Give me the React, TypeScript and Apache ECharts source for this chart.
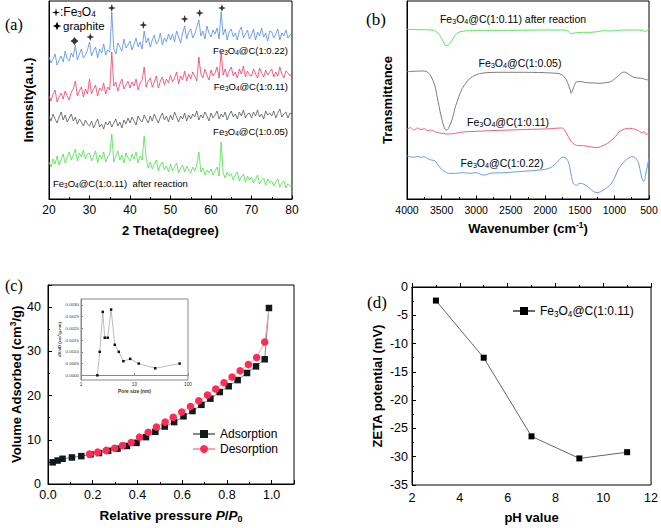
import React, { useEffect, useRef } from 'react';
import * as echarts from 'echarts';

const FONT = '"Liberation Sans", Arial, Helvetica, sans-serif';
const SERIF = '"Liberation Serif", "Times New Roman", serif';

// ---------- (a) XRD: intensity (a.u.) sampled every 0.5 degree from 20 to 80 ----------
const xrdStart = 20;
const xrdStep = 0.5;
const xrdBlue = [
  143, 137, 141, 146, 135, 140, 144, 138, 149, 141,
  139, 147, 143, 155, 140, 146, 151, 142, 145, 150,
  158, 144, 149, 153, 142, 151, 147, 156, 145, 150,
  148, 188, 151, 146, 157, 153, 149, 161, 152, 155,
  159, 150, 156, 162, 153, 158, 151, 169, 157, 162,
  153, 160, 165, 156, 159, 167, 155, 162, 158, 166,
  160, 166, 158, 169, 163, 157, 167, 174, 161, 168,
  171, 162, 166, 173, 180, 164, 169, 161, 174, 167,
  163, 170, 166, 172, 161, 188, 165, 171, 160, 168,
  171, 163, 167, 160, 169, 173, 162, 166, 170, 161,
  165, 171, 160, 168, 164, 172, 163, 167, 159, 169,
  168, 162, 166, 171, 160, 167, 164, 170, 162, 165,
  167,
];
const xrdRed = [
  104, 99, 106, 110, 98, 103, 107, 101, 109, 104,
  100, 108, 111, 119, 104, 109, 113, 103, 111, 106,
  121, 106, 111, 115, 104, 112, 109, 117, 106, 113,
  110, 148, 114, 118, 109, 116, 121, 111, 115, 119,
  112, 118, 114, 121, 110, 117, 120, 133, 113, 119,
  122, 113, 118, 124, 112, 119, 123, 115, 121, 117,
  125, 118, 122, 128, 116, 124, 120, 129, 119, 126,
  121, 128, 124, 119, 143, 126, 122, 131, 125, 120,
  130, 124, 127, 133, 122, 149, 125, 131, 123, 129,
  133, 124, 128, 122, 131, 126, 134, 123, 129, 125,
  124, 131, 126, 122, 132, 127, 123, 130, 125, 128,
  131, 123, 128, 124, 133, 126, 122, 129, 127, 124,
  127,
];
const xrdBlack = [
  84, 79, 86, 81, 77, 83, 88, 80, 85, 78,
  82, 86, 79, 83, 76, 81, 78, 74, 80, 76,
  74, 79, 72, 77, 81, 73, 76, 71, 78, 75,
  79, 73, 77, 81, 74, 78, 72, 80, 76, 82,
  77, 83, 79, 75, 84, 80, 78, 85, 81, 77,
  84, 79, 86, 81, 77, 83, 87, 80, 84, 78,
  85, 80, 88, 83, 78, 84, 81, 87, 79, 85,
  81, 86, 83, 89, 80, 85, 82, 88, 84, 79,
  87, 82, 85, 89, 81, 86, 83, 88, 80, 85,
  89, 83, 86, 81, 88, 84, 90, 82, 86, 87,
  82, 88, 84, 90, 83, 86, 81, 89, 85, 87,
  84, 89, 82, 87, 91, 83, 86, 88, 82, 87,
  86,
];
const xrdGreen = [
  38, 33, 41, 36, 44, 35, 40, 46, 37, 43,
  48, 40, 45, 51, 39, 47, 43, 50, 41, 46,
  47, 39, 44, 49, 37, 45, 41, 48, 38, 43,
  46, 66, 38, 44, 49, 40, 45, 37, 47, 42,
  39, 46, 41, 48, 37, 44, 40, 64, 42, 32,
  38, 31, 36, 40, 29, 35, 38, 30, 34, 28,
  36, 29, 33, 37, 27, 32, 35, 28, 34, 30,
  27, 33, 29, 35, 48, 28, 32, 25, 30, 27,
  31, 25, 29, 33, 24, 58, 27, 22, 28, 24,
  26, 20, 25, 28, 19, 23, 26, 18, 24, 20,
  23, 17, 21, 25, 16, 20, 22, 15, 21, 17,
  19, 14, 18, 21, 13, 17, 19, 12, 16, 14,
  15,
];
const fePeakX = [30.2, 35.5, 43.3, 53.5, 57.2, 62.7];
const fePeakMarkY = [163, 192, 175, 181, 187, 192];
const graphitePeakX = [26.3];
const graphitePeakMarkY = [159];

// ---------- (b) FTIR ----------
const ftirGreenWn = [4000, 3800, 3650, 3600, 3550, 3500, 3450, 3420, 3380, 3330, 3280, 3200, 3100, 3000, 2500, 2000, 1800, 1700, 1650, 1625, 1600, 1550, 1450, 1350, 1250, 1150, 1050, 950, 850, 700, 600, 560, 530, 500];
const ftirGreenT = [170.7, 170.3, 170, 169.3, 166.7, 161.7, 155, 154.3, 156.7, 161.7, 166.7, 168.7, 169.3, 169.7, 169.7, 170, 170, 169.7, 167.7, 166, 166.7, 167.3, 167.7, 167.7, 168.3, 169.3, 169, 169.7, 170, 170, 169.7, 168.7, 169.3, 171.7];
const ftirGrayWn = [4000, 3900, 3800, 3750, 3700, 3650, 3600, 3550, 3500, 3450, 3420, 3400, 3350, 3300, 3250, 3200, 3150, 3100, 3000, 2900, 2700, 2500, 2300, 2100, 1900, 1800, 1750, 1700, 1660, 1640, 1625, 1610, 1590, 1550, 1500, 1400, 1300, 1200, 1100, 1050, 1000, 950, 900, 860, 820, 780, 720, 650, 600, 550, 500];
const ftirGrayT = [128.3, 128.7, 129, 129, 127.7, 123.3, 115, 98.3, 81.7, 70.7, 70, 71.7, 80, 93.3, 103.3, 111.7, 116.7, 121, 125.3, 127, 127.7, 127.7, 127.7, 127.5, 127, 126.3, 124.7, 121, 114, 110, 106.7, 109, 112.7, 118, 118.5, 117.3, 117, 116.7, 117.7, 118.3, 121, 123.7, 127, 128, 127, 125, 122.7, 122, 121.7, 120.5, 120];
const ftirRedWn = [4000, 3950, 3900, 3850, 3800, 3750, 3700, 3650, 3600, 3500, 3400, 3300, 3200, 3000, 2800, 2500, 2200, 2000, 1850, 1760, 1720, 1680, 1640, 1600, 1550, 1450, 1350, 1270, 1200, 1100, 1000, 930, 850, 780, 700, 650, 600, 570, 540, 520, 500];
const ftirRedT = [70.7, 72.3, 70, 72, 70.3, 71.3, 69.3, 70, 68.3, 66.7, 66, 66.7, 68, 68.7, 69.3, 70, 70.7, 71, 71.7, 72, 70, 65, 60, 56.7, 54.7, 54.3, 53.3, 52.3, 53.3, 56.7, 62.3, 68.3, 71, 71.7, 70.7, 69.3, 67.3, 68.3, 65.3, 66.7, 64];
const ftirBlueWn = [4000, 3900, 3850, 3800, 3750, 3700, 3650, 3600, 3550, 3500, 3450, 3400, 3300, 3200, 3100, 3000, 2900, 2850, 2800, 2600, 2400, 2200, 2000, 1900, 1800, 1750, 1700, 1660, 1620, 1590, 1550, 1500, 1450, 1400, 1350, 1300, 1250, 1200, 1100, 1050, 1000, 950, 900, 850, 800, 750, 700, 650, 620, 590, 570, 550, 520, 500];
const ftirBlueT = [44, 42.7, 43.7, 42.7, 43.3, 41.3, 40, 39.3, 35, 30.7, 28.3, 26.7, 26.7, 27.3, 26.7, 27.3, 25, 25.3, 26.7, 27.3, 28.3, 29.3, 30.7, 33.3, 40, 42.7, 42, 36.7, 23.3, 16, 14.7, 16.7, 16, 14, 11.3, 8.3, 7.3, 8.3, 12.7, 16, 21.7, 30, 35, 39, 41.7, 43.3, 42.3, 36.7, 26.7, 19.3, 19, 25, 35, 41.7];

// ---------- (c) N2 isotherm ----------
const adsP = [0.021, 0.043, 0.065, 0.107, 0.149, 0.19, 0.228, 0.269, 0.311, 0.353, 0.396, 0.438, 0.48, 0.522, 0.564, 0.606, 0.646, 0.686, 0.726, 0.768, 0.808, 0.848, 0.89, 0.93, 0.969, 0.988];
const adsV = [4.9, 5.3, 5.7, 6.0, 6.3, 6.7, 7.0, 7.5, 8.0, 8.6, 9.3, 10.6, 11.8, 13.0, 14.0, 15.3, 16.5, 17.9, 19.3, 20.8, 22.1, 23.5, 25.1, 26.6, 28.2, 39.8];
const desP = [0.988, 0.969, 0.933, 0.896, 0.859, 0.823, 0.787, 0.75, 0.713, 0.674, 0.637, 0.598, 0.56, 0.524, 0.485, 0.448, 0.409, 0.372, 0.333, 0.298, 0.26, 0.222, 0.186];
const desV = [39.8, 32.1, 28.6, 27.0, 25.6, 24.2, 22.9, 21.5, 20.1, 18.8, 17.5, 16.3, 15.1, 14.0, 12.9, 11.7, 10.6, 9.4, 8.7, 8.1, 7.6, 7.2, 6.8];
// inset: pore size distribution
const poreSize = [2.02, 2.24, 2.55, 2.78, 3.16, 3.65, 4.28, 5.08, 6.2, 8.3, 12, 24.4, 69.8];
const poreDvDd = [0, 0.001, 0.0027, 0.0016, 0.0016, 0.0028, 0.0013, 0.001, 0.0006, 0.0007, 0.0005, 0.0003, 0.0005];

// ---------- (d) zeta potential ----------
const phValues = [3, 5, 7, 9, 11];
const zetaMv = [-2.4, -12.5, -26.4, -30.3, -29.2];

const fe = (tail: string) => `{t|Fe}{s|3}{t|O}{s|4}{t|${tail}}`;
const chemRich = (size: number, color = '#000', pad?: number) => ({
  t: { fontSize: size, fontFamily: FONT, fill: color, color },
  s: { fontSize: size * 0.68, fontFamily: FONT, fill: color, color, padding: [pad ?? Math.round(size * 0.5), 0, 0, 0] },
});

const starPts = (cx: number, cy: number, r: number, ri: number) => {
  const pts: number[][] = [];
  for (let k = 0; k < 8; k++) {
    const a = (k * Math.PI) / 4 - Math.PI / 2;
    const rr = k % 2 === 0 ? r : ri;
    pts.push([cx + rr * Math.cos(a), cy + rr * Math.sin(a)]);
  }
  return pts;
};

const STAR = 'path://M0,-10L2.6,-2.6L10,0L2.6,2.6L0,10L-2.6,2.6L-10,0L-2.6,-2.6Z';
const DIAMOND = 'path://M0,-10L4.2,-4.2L10,0L4.2,4.2L0,10L-4.2,4.2L-10,0L-4.2,-4.2Z';

const tickStyle = (len: number) => ({ show: true, inside: true, length: len, lineStyle: { color: '#000', width: 1 } });
const minorStyle = (len: number) => ({ show: true, splitNumber: 2, length: len, lineStyle: { color: '#000', width: 1 } });
const lineBlack = { show: true, lineStyle: { color: '#000', width: 1 } };
const boldName = (size: number) => ({ fontFamily: FONT, fontSize: size, fontWeight: 'bold' as const, color: '#000' });
const plain = (v: number) => String(v);

function buildOption() {
  const xrd = (arr: number[]) => arr.map((v, i) => [xrdStart + i * xrdStep, v]);
  const pair = (xs: number[], ys: number[]) => xs.map((x, i) => [x, ys[i]]);

  const graphic: any[] = [
    { type: 'text', x: 5, y: 24, style: { text: '(a)', fontFamily: SERIF, fontSize: 16, fill: '#000', verticalAlign: 'middle' } },
    { type: 'text', x: 366, y: 19, style: { text: '(b)', fontFamily: SERIF, fontSize: 17, fill: '#000', verticalAlign: 'middle' } },
    { type: 'text', x: 5, y: 285, style: { text: '(c)', fontFamily: SERIF, fontSize: 16, fill: '#000', verticalAlign: 'middle' } },
    { type: 'text', x: 367, y: 302, style: { text: '(d)', fontFamily: SERIF, fontSize: 17, fill: '#000', verticalAlign: 'middle' } },
    // (a) legend
    { type: 'polygon', shape: { points: starPts(56, 12.5, 4.2, 1.1) }, style: { fill: '#000' } },
    { type: 'text', x: 60, y: 12, style: { text: '{t|:Fe}{s|3}{t|O}{s|4}', rich: chemRich(12, '#000', 4), verticalAlign: 'middle' } },
    { type: 'polygon', shape: { points: starPts(57, 26, 4.2, 1.8) }, style: { fill: '#000' } },
    { type: 'text', x: 63, y: 26, style: { text: 'graphite', fontFamily: FONT, fontSize: 11.5, fill: '#000', verticalAlign: 'middle' } },
    // (a) curve labels
    { type: 'text', x: 288, y: 50, style: { text: fe('@C(1:0.22)'), rich: chemRich(9.5), align: 'right', verticalAlign: 'middle' } },
    { type: 'text', x: 288, y: 86, style: { text: fe('@C(1:0.11)'), rich: chemRich(9.5), align: 'right', verticalAlign: 'middle' } },
    { type: 'text', x: 288, y: 131, style: { text: fe('@C(1:0.05)'), rich: chemRich(9.5), align: 'right', verticalAlign: 'middle' } },
    { type: 'text', x: 53, y: 183, style: { text: fe('@C(1:0.11)  after reaction'), rich: chemRich(9.5), verticalAlign: 'middle' } },
    // (b) curve labels
    { type: 'text', x: 513, y: 19, style: { text: fe('@C(1:0.11) after reaction'), rich: chemRich(10.5), align: 'center', verticalAlign: 'middle' } },
    { type: 'text', x: 520, y: 63, style: { text: fe('@C(1:0.05)'), rich: chemRich(10.5), align: 'center', verticalAlign: 'middle' } },
    { type: 'text', x: 508, y: 122, style: { text: fe('@C(1:0.11)'), rich: chemRich(10.5), align: 'center', verticalAlign: 'middle' } },
    { type: 'text', x: 502, y: 163, style: { text: fe('@C(1:0.22)'), rich: chemRich(10.5), align: 'center', verticalAlign: 'middle' } },
  ];

  const gridBase = { show: true, borderColor: '#000', borderWidth: 1, backgroundColor: 'transparent', containLabel: false };

  return {
    animation: false,
    backgroundColor: '#fff',
    textStyle: { fontFamily: FONT },
    grid: [
      { ...gridBase, left: 49, top: 1, width: 243, height: 198 },
      { ...gridBase, left: 407, top: 1, width: 242, height: 198 },
      { ...gridBase, left: 48, top: 285, width: 246, height: 199 },
      { ...gridBase, left: 81, top: 299, width: 107, height: 81, borderColor: '#888' },
      { ...gridBase, left: 412, top: 287, width: 243, height: 198 },
    ],
    xAxis: [
      {
        gridIndex: 0, type: 'value', min: 20, max: 80, interval: 10,
        axisLine: lineBlack, axisTick: tickStyle(3.5), minorTick: minorStyle(2), splitLine: { show: false },
        axisLabel: { color: '#000', fontFamily: FONT, fontSize: 12, margin: 5, formatter: plain },
        name: '2 Theta(degree)', nameLocation: 'middle', nameGap: 25, nameTextStyle: boldName(13),
      },
      {
        gridIndex: 1, type: 'value', min: 500, max: 4000, interval: 500, inverse: true,
        axisLine: lineBlack, axisTick: tickStyle(3.5), minorTick: minorStyle(2), splitLine: { show: false },
        axisLabel: { color: '#000', fontFamily: FONT, fontSize: 10.5, margin: 5, formatter: plain },
        name: '{b|Wavenumber (cm}{p|-1}{b|)}', nameLocation: 'middle', nameGap: 21,
        nameTextStyle: { rich: { b: boldName(13), p: { ...boldName(8.5), padding: [0, 0, 7, 0] } } },
      },
      {
        gridIndex: 2, type: 'value', min: 0, max: 1.1, interval: 0.2,
        axisLine: lineBlack, axisTick: tickStyle(4), minorTick: minorStyle(2), splitLine: { show: false },
        axisLabel: { color: '#000', fontFamily: FONT, fontSize: 12.5, margin: 4, showMaxLabel: false, formatter: (v: number) => v.toFixed(1) },
        name: '{b|Relative pressure }{i|P}{b|/}{i|P}{s|0}', nameLocation: 'middle', nameGap: 23,
        nameTextStyle: {
          rich: {
            b: boldName(13.5),
            i: { ...boldName(13.5), fontStyle: 'italic' },
            s: { ...boldName(9), padding: [7, 0, 0, 0] },
          },
        },
      },
      {
        gridIndex: 3, type: 'log', logBase: 10, min: 1, max: 100,
        axisLine: { show: true, lineStyle: { color: '#888', width: 1 } },
        axisTick: { show: true, inside: true, length: 2, lineStyle: { color: '#888' } },
        splitLine: { show: false },
        axisLabel: { color: '#333', fontFamily: FONT, fontSize: 4.8, margin: 2, formatter: plain },
        name: 'Pore size (nm)', nameLocation: 'middle', nameGap: 9,
        nameTextStyle: { fontFamily: FONT, fontSize: 4.8, fontWeight: 'bold', color: '#333' },
      },
      {
        gridIndex: 4, type: 'value', min: 2, max: 12, interval: 2,
        axisLine: lineBlack, axisTick: tickStyle(4), minorTick: minorStyle(2), splitLine: { show: false },
        axisLabel: { color: '#000', fontFamily: FONT, fontSize: 12.5, margin: 6, formatter: plain },
        name: 'pH value', nameLocation: 'middle', nameGap: 26, nameTextStyle: boldName(13),
      },
    ],
    yAxis: [
      {
        gridIndex: 0, type: 'value', min: 1, max: 199,
        axisLine: lineBlack, axisTick: { show: false }, axisLabel: { show: false }, splitLine: { show: false },
        name: 'Intensity(a.u.)', nameLocation: 'middle', nameGap: 14, nameTextStyle: boldName(13),
      },
      {
        gridIndex: 1, type: 'value', min: 1, max: 199,
        axisLine: lineBlack, axisTick: { show: false }, axisLabel: { show: false }, splitLine: { show: false },
        name: 'Transmittance', nameLocation: 'middle', nameGap: 13.5, nameTextStyle: boldName(13),
      },
      {
        gridIndex: 2, type: 'value', min: 0, max: 45, interval: 10,
        axisLine: lineBlack, axisTick: tickStyle(4), minorTick: minorStyle(2), splitLine: { show: false },
        axisLabel: { color: '#000', fontFamily: FONT, fontSize: 12.5, margin: 7, showMaxLabel: false, formatter: plain },
        name: '{b|Volume Adsorbed (cm}{p|3}{b|/g)}', nameLocation: 'middle', nameGap: 20,
        nameTextStyle: { rich: { b: boldName(13), p: { ...boldName(8.5), padding: [0, 0, 7, 0] } } },
      },
      {
        gridIndex: 3, type: 'value', min: -0.0002, max: 0.00325, minInterval: 0.0005, maxInterval: 0.0005,
        axisLine: { show: true, lineStyle: { color: '#888', width: 1 } },
        axisTick: { show: true, inside: true, length: 2, lineStyle: { color: '#888' } },
        splitLine: { show: false },
        axisLabel: { color: '#333', fontFamily: FONT, fontSize: 4.4, margin: 2, showMinLabel: false, showMaxLabel: false, formatter: (v: number) => v.toFixed(4) },
        name: 'dV/dD (cm³/g-nm)', nameLocation: 'middle', nameGap: 15,
        nameTextStyle: { fontFamily: FONT, fontSize: 4.2, fontWeight: 'bold', color: '#333' },
      },
      {
        gridIndex: 4, type: 'value', min: -35, max: 0, interval: 5,
        axisLine: lineBlack, axisTick: tickStyle(4), minorTick: minorStyle(2), splitLine: { show: false },
        axisLabel: { color: '#000', fontFamily: FONT, fontSize: 12.5, margin: 4, formatter: plain },
        name: 'ZETA potential (mV)', nameLocation: 'middle', nameGap: 28.5, nameTextStyle: boldName(13),
      },
    ],
    legend: [
      {
        data: ['Adsorption', 'Desorption'], orient: 'vertical', left: 192, top: 428,
        itemWidth: 22, itemHeight: 10, itemGap: 3, padding: 0,
        textStyle: { fontFamily: FONT, fontSize: 12, color: '#000' },
      },
      {
        data: ['Fe3O4@C(1:0.11)'], left: 512, top: 305, itemWidth: 22, itemHeight: 10, padding: 0,
        formatter: () => fe('@C(1:0.11)'),
        textStyle: { color: '#000', rich: chemRich(12) },
      },
    ],
    graphic,
    series: [
      // (a)
      { name: 'XRD 1:0.22', type: 'line', xAxisIndex: 0, yAxisIndex: 0, data: xrd(xrdBlue), showSymbol: false, lineStyle: { color: '#4f8ae6', width: 0.8 }, silent: true },
      { name: 'XRD 1:0.11', type: 'line', xAxisIndex: 0, yAxisIndex: 0, data: xrd(xrdRed), showSymbol: false, lineStyle: { color: '#f03c64', width: 0.8 }, silent: true },
      { name: 'XRD 1:0.05', type: 'line', xAxisIndex: 0, yAxisIndex: 0, data: xrd(xrdBlack), showSymbol: false, lineStyle: { color: '#505858', width: 0.8 }, silent: true },
      { name: 'XRD after', type: 'line', xAxisIndex: 0, yAxisIndex: 0, data: xrd(xrdGreen), showSymbol: false, lineStyle: { color: '#48de48', width: 0.8 }, silent: true },
      { name: 'Fe3O4 peaks', type: 'scatter', xAxisIndex: 0, yAxisIndex: 0, data: pair(fePeakX, fePeakMarkY), symbol: STAR, symbolSize: 8, itemStyle: { color: '#000' }, silent: true },
      { name: 'graphite peaks', type: 'scatter', xAxisIndex: 0, yAxisIndex: 0, data: pair(graphitePeakX, graphitePeakMarkY), symbol: DIAMOND, symbolSize: 8, itemStyle: { color: '#000' }, silent: true },
      // (b)
      { name: 'FTIR after', type: 'line', xAxisIndex: 1, yAxisIndex: 1, data: pair(ftirGreenWn, ftirGreenT), showSymbol: false, smooth: 0.3, lineStyle: { color: '#5fe05f', width: 1 }, silent: true },
      { name: 'FTIR 1:0.05', type: 'line', xAxisIndex: 1, yAxisIndex: 1, data: pair(ftirGrayWn, ftirGrayT), showSymbol: false, smooth: 0.3, lineStyle: { color: '#7d7d7d', width: 1 }, silent: true },
      { name: 'FTIR 1:0.11', type: 'line', xAxisIndex: 1, yAxisIndex: 1, data: pair(ftirRedWn, ftirRedT), showSymbol: false, smooth: 0.3, lineStyle: { color: '#f0607c', width: 1 }, silent: true },
      { name: 'FTIR 1:0.22', type: 'line', xAxisIndex: 1, yAxisIndex: 1, data: pair(ftirBlueWn, ftirBlueT), showSymbol: false, smooth: 0.3, lineStyle: { color: '#6a9be8', width: 1 }, silent: true },
      // (c)
      { name: 'Adsorption', type: 'line', xAxisIndex: 2, yAxisIndex: 2, data: pair(adsP, adsV), symbol: 'rect', symbolSize: 6.5, lineStyle: { color: '#7f8a8a', width: 1 }, itemStyle: { color: '#0f1a1a' } },
      {
        name: 'Desorption', type: 'line', xAxisIndex: 2, yAxisIndex: 2,
        data: desP.map((p, i) => (i === 0 ? { value: [p, desV[i]], symbol: 'none' } : [p, desV[i]])),
        symbol: 'circle', symbolSize: 7.5, lineStyle: { color: '#f7a5b5', width: 1 }, itemStyle: { color: '#ff2d55' },
      },
      { name: 'PSD', type: 'line', xAxisIndex: 3, yAxisIndex: 3, data: pair(poreSize, poreDvDd), symbol: 'rect', symbolSize: 2.5, lineStyle: { color: '#aaa', width: 0.8 }, itemStyle: { color: '#111' }, silent: true },
      // (d)
      { name: 'Fe3O4@C(1:0.11)', type: 'line', xAxisIndex: 4, yAxisIndex: 4, data: pair(phValues, zetaMv), symbol: 'rect', symbolSize: 6, lineStyle: { color: '#666', width: 1 }, itemStyle: { color: '#000' } },
    ],
  };
}

export default function App() {
  const ref = useRef<HTMLDivElement>(null);
  useEffect(() => {
    document.body.style.margin = '0';
    if (!ref.current) return;
    const chart = echarts.init(ref.current, undefined, { renderer: 'svg' });
    chart.setOption(buildOption() as any);
    return () => chart.dispose();
  }, []);
  return <div ref={ref} style={{ width: 661, height: 528 }} />;
}
